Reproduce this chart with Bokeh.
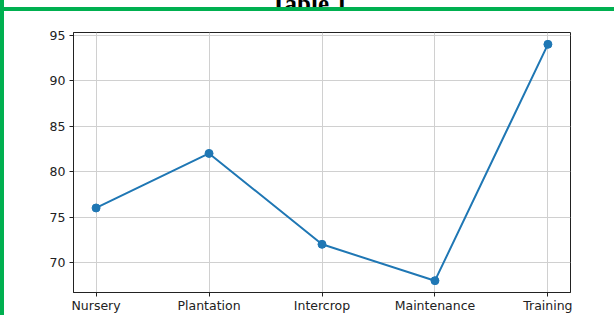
from bokeh.plotting import figure
from bokeh.models import Range1d, FixedTicker, Div
from bokeh.layouts import row, column
from bokeh.embed import file_html
from bokeh.resources import INLINE

title_text = "Table 1"
categories = ["Nursery", "Plantation", "Intercrop", "Maintenance", "Training"]
values = [76, 82, 72, 68, 94]
y_ticks = [70, 75, 80, 85, 90, 95]

GREEN = "#00b050"
BLUE = "#1f77b4"
FONT = "DejaVu Sans"

xs = list(range(len(categories)))

p = figure(width=610, height=304, output_backend="svg", toolbar_location=None,
           x_range=Range1d(-0.2, 4.2), y_range=Range1d(66.7, 95.3),
           min_border_left=69, min_border_right=44, min_border_top=21,
           min_border_bottom=20)

p.line(xs, values, line_color=BLUE, line_width=2)
p.scatter(xs, values, size=8, fill_color=BLUE, line_color=BLUE)

p.xaxis.ticker = FixedTicker(ticks=xs)
p.xaxis.major_label_overrides = {i: c for i, c in enumerate(categories)}
p.yaxis.ticker = FixedTicker(ticks=y_ticks)

for ax in (p.xaxis[0], p.yaxis[0]):
    ax.major_label_text_font = FONT
    ax.major_label_text_font_size = "12.5px"
    ax.major_label_text_color = "#222222"
    ax.axis_line_color = "#222222"
    ax.axis_line_width = 1
    ax.major_tick_line_color = "#222222"
    ax.major_tick_out = 4
    ax.major_tick_in = 0
    ax.minor_tick_line_color = None
p.xaxis.major_label_standoff = 1
p.yaxis.major_label_standoff = 4

p.xgrid.grid_line_color = "#d0d0d0"
p.ygrid.grid_line_color = "#d0d0d0"
p.xgrid.grid_line_width = 1
p.ygrid.grid_line_width = 1

p.outline_line_color = "#222222"
p.outline_line_width = 1
p.background_fill_color = "white"
p.border_fill_color = "white"

left_bar = Div(text="", width=4, height=315, margin=0,
               styles={"background-color": GREEN})
title = Div(text=('<div style="margin-top:-17px;text-align:center;width:610px;'
                  'font-family:Liberation Serif, Times New Roman, serif;'
                  'font-weight:bold;font-size:25px;line-height:25px;color:#000">'
                  + title_text + '</div>'),
            width=610, height=7, margin=0,
            styles={"overflow": "hidden", "font-family": "Liberation Serif, serif"})
top_bar = Div(text="", width=610, height=4, margin=0,
              styles={"background-color": GREEN})

layout = row(left_bar, column(title, top_bar, p, spacing=0), spacing=0)

open("out.html", "w").write(file_html(layout, INLINE))
